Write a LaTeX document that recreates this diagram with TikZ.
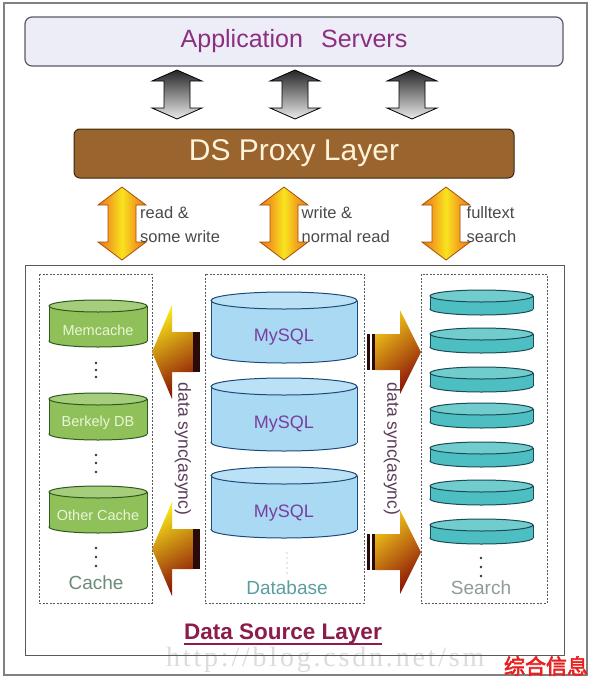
\documentclass[tikz,border=0pt]{standalone}
\usepackage{fontspec}
\setmainfont{Liberation Sans}
\newfontfamily\cjkfont[FakeBold=3]{Noto Sans CJK SC}
\newfontfamily\wmfont[LetterSpace=10]{Liberation Serif}
\definecolor{framegray}{HTML}{808080}
\definecolor{boxgray}{HTML}{5A5A5A}
\definecolor{appfill}{HTML}{EDEDF8}
\definecolor{appborder}{HTML}{5A5A66}
\definecolor{apptext}{HTML}{8B2F80}
\definecolor{proxyfill}{HTML}{9A642E}
\definecolor{proxyborder}{HTML}{3B2812}
\definecolor{proxytext}{HTML}{FFF3DA}
\definecolor{lbltext}{HTML}{4A4A4A}
\definecolor{cachefill}{HTML}{8FC05A}
\definecolor{cachedraw}{HTML}{2E5A1E}
\definecolor{cachetext}{HTML}{EAF6D6}
\definecolor{cachelbl}{HTML}{6B8B78}
\definecolor{sqlfill}{HTML}{A9D9F3}
\definecolor{sqldraw}{HTML}{1E4A7A}
\definecolor{sqltext}{HTML}{7A3EA0}
\definecolor{dblbl}{HTML}{5B9EA0}
\definecolor{tealfill}{HTML}{4DBFC2}
\definecolor{tealdraw}{HTML}{1B4B55}
\definecolor{searchlbl}{HTML}{8C9C9C}
\definecolor{synctext}{HTML}{5A3D5A}
\definecolor{dsltext}{HTML}{8C1C4C}
\definecolor{oedge}{HTML}{E97A16}
\definecolor{omid}{HTML}{F3A01E}
\definecolor{ocenter}{HTML}{F8E41E}
\definecolor{odraw}{HTML}{A0500A}
\definecolor{ayellow}{HTML}{F7E41A}
\definecolor{aorange}{HTML}{E8861A}
\definecolor{ared}{HTML}{8A1208}
\definecolor{bardark}{HTML}{2A0A08}
\definecolor{wmred}{HTML}{E82020}
\definecolor{wmgray}{HTML}{DCDCDC}
\pgfdeclarehorizontalshading{orangeshade}{100bp}{color(0bp)=(oedge); color(25bp)=(oedge); color(36bp)=(omid); color(50bp)=(ocenter); color(64bp)=(omid); color(75bp)=(oedge); color(100bp)=(oedge)}
\newcommand\mycyl[7]{%
  \fill[#6,draw=#7,line width=1] (#1,#3-#5) ellipse [x radius=#4, y radius=#5];
  \fill[#6] (#1-#4,#2+#5) rectangle (#1+#4,#3-#5);
  \draw[#7,line width=1] (#1-#4,#2+#5) -- (#1-#4,#3-#5) (#1+#4,#2+#5) -- (#1+#4,#3-#5);
  \fill[#6!80!white,draw=#7,line width=1] (#1,#2+#5) ellipse [x radius=#4, y radius=#5];
}
\newcommand\vdarrow[7]{%
  \path[#7] (#1,#2) -- (#1+#4,#2+#6) -- (#1+#5,#2+#6) -- (#1+#5,#3-#6) -- (#1+#4,#3-#6)
    -- (#1,#3) -- (#1-#4,#3-#6) -- (#1-#5,#3-#6) -- (#1-#5,#2+#6) -- (#1-#4,#2+#6) -- cycle;
}
\newcommand\leftbig[1]{%
  \path[leftarrowsty] (152,#1) -- (172,#1-47) -- (172,#1-20) -- (193,#1-20) -- (193,#1+20)
    -- (172,#1+20) -- (172,#1+47) -- cycle;
  \fill[bardark] (193,#1-20) rectangle (200,#1+20);
}
\newcommand\rightbig[1]{%
  \path[rightarrowsty] (375,#1-18) -- (400,#1-18) -- (400,#1-42) -- (421,#1) -- (400,#1+42)
    -- (400,#1+18) -- (375,#1+18) -- cycle;
  \fill[bardark] (367,#1-18) rectangle (370,#1+18);
  \fill[bardark] (372,#1-18) rectangle (375,#1+18);
}
\begin{document}
\begin{tikzpicture}[x=1pt,y=-1pt,
  appbox/.style={draw=appborder,line width=1.2,fill=appfill,rounded corners=7,
    text=apptext,font=\fontsize{25}{30}\selectfont},
  proxybox/.style={draw=proxyborder,line width=1,fill=proxyfill,rounded corners=6,
    text=proxytext,font=\fontsize{30}{34}\selectfont},
  grayarrow/.style={draw=black,line width=0.8,top color=black!85,bottom color=white!92!black},
  orangearrow/.style={draw=odraw,line width=0.8,shading=orangeshade},
  leftarrowsty/.style={top color=ayellow,middle color=aorange,bottom color=ared,shading angle=30},
  rightarrowsty/.style={top color=ayellow!70!aorange,middle color=aorange,bottom color=ared,shading angle=40},
  lbl/.style={anchor=west,inner sep=0,align=left,text=lbltext,font=\fontsize{16.5}{24}\selectfont},
  dashbox/.style={draw=boxgray,line width=0.8,dash pattern=on 2pt off 1.5pt},
  cachetxt/.style={text=cachetext,font=\fontsize{14.5}{17}\selectfont},
  sqltxt/.style={text=sqltext,font=\fontsize{18}{21}\selectfont},
  seclbl/.style={font=\fontsize{19}{22}\selectfont},
  synctxt/.style={rotate=-90,text=synctext,font=\fontsize{17.5}{20}\selectfont},
  dotsty/.style={fill=black!80}
]
\useasboundingbox (0,0) rectangle (594,681);
\fill[white] (0,0) rectangle (594,681);

% watermark text (faint)
\node[text=wmgray,font=\wmfont\fontsize{28}{30}\selectfont,anchor=west,inner sep=0] (url) at (166,660) {http://blog.csdn.net/sm};

% outer frame
\draw[framegray,line width=1.5] (4,3) rectangle (587,675);

% top layers
\node[appbox,minimum width=538,minimum height=49] (app) at (294,41.5) {Application\hspace{0.45em} Servers};
\node[proxybox,minimum width=440,minimum height=49] (proxy) at (294,153.5) {DS Proxy Layer};

% gray double arrows
\vdarrow{177}{70}{119}{25}{13}{11}{grayarrow}
\vdarrow{295}{70}{119}{25}{13}{11}{grayarrow}
\vdarrow{412}{70}{119}{25}{13}{11}{grayarrow}

% orange double arrows
\vdarrow{122}{187}{260}{24}{14}{18}{orangearrow}
\vdarrow{284}{187}{260}{24}{14}{18}{orangearrow}
\vdarrow{446}{187}{260}{24}{14}{18}{orangearrow}
\node[lbl] (l1) at (140,225) {read \&\\some write};
\node[lbl] (l2) at (301.5,225) {write \&\\normal read};
\node[lbl] (l3) at (466.5,225) {fulltext\\search};

% data source layer
\draw[boxgray,line width=1] (25,265) rectangle (564,655);
\draw[dashbox] (39,274) rectangle (152,603);
\draw[dashbox] (205,274) rectangle (364,603);
\draw[dashbox] (421,274) rectangle (547,603);

% cache cylinders
\mycyl{98}{300}{347}{49}{6}{cachefill}{cachedraw}
\mycyl{98}{393}{440}{49}{6}{cachefill}{cachedraw}
\mycyl{98}{486}{533}{49}{6}{cachefill}{cachedraw}
\node[cachetxt] (memc) at (98,330) {Memcache};
\node[cachetxt] (bdb) at (98,423) {Berkely DB};
\node[cachetxt] (oc) at (98,515) {Other Cache};
\foreach \yy in {363,370,377,455,463,472,548,557,566} \fill[dotsty] (96,\yy) circle (1.3);
\node[seclbl,text=cachelbl] (cachelabel) at (96,583) {Cache};

% mysql cylinders
\mycyl{284}{292}{363}{73}{8.5}{sqlfill}{sqldraw}
\mycyl{284}{378}{451}{73}{8.5}{sqlfill}{sqldraw}
\mycyl{284}{467}{538}{73}{8.5}{sqlfill}{sqldraw}
\node[sqltxt] (sql1) at (284,337) {MySQL};
\node[sqltxt] (sql2) at (284,424) {MySQL};
\node[sqltxt] (sql3) at (284,513) {MySQL};
\foreach \yy in {553,558,563,568,573} \fill[black!40] (287,\yy) circle (0.7);
\node[seclbl,text=dblbl] (dblabel) at (287,588) {Database};

% search disks
\foreach \t in {290,328,367,403,442,480,519} {\mycyl{481.5}{\t}{\t+25}{51.5}{6}{tealfill}{tealdraw}}
\foreach \yy in {558,567,576} \fill[dotsty] (481,\yy) circle (1.3);
\node[seclbl,text=searchlbl] (searchlabel) at (481,588) {Search};

% sync arrows
\leftbig{352}
\leftbig{549}
\rightbig{352}
\rightbig{552}
\node[synctxt] (sync1) at (183,449) {data sync(async)};
\node[synctxt] (sync2) at (392,449) {data sync(async)};

% title
\node[anchor=base,inner sep=0,text=dsltext,font=\bfseries\fontsize{22.5}{26}\selectfont] (dsl) at (283,639) {Data Source Layer};
\draw[dsltext,line width=1.3] ([yshift=-5pt]dsl.base west) -- ([yshift=-5pt]dsl.base east);

% red watermark
\node[text=wmred,font=\cjkfont\fontsize{21}{24}\selectfont,inner sep=0] (wm) at (546,666) {综合信息};
\end{tikzpicture}
\end{document}
